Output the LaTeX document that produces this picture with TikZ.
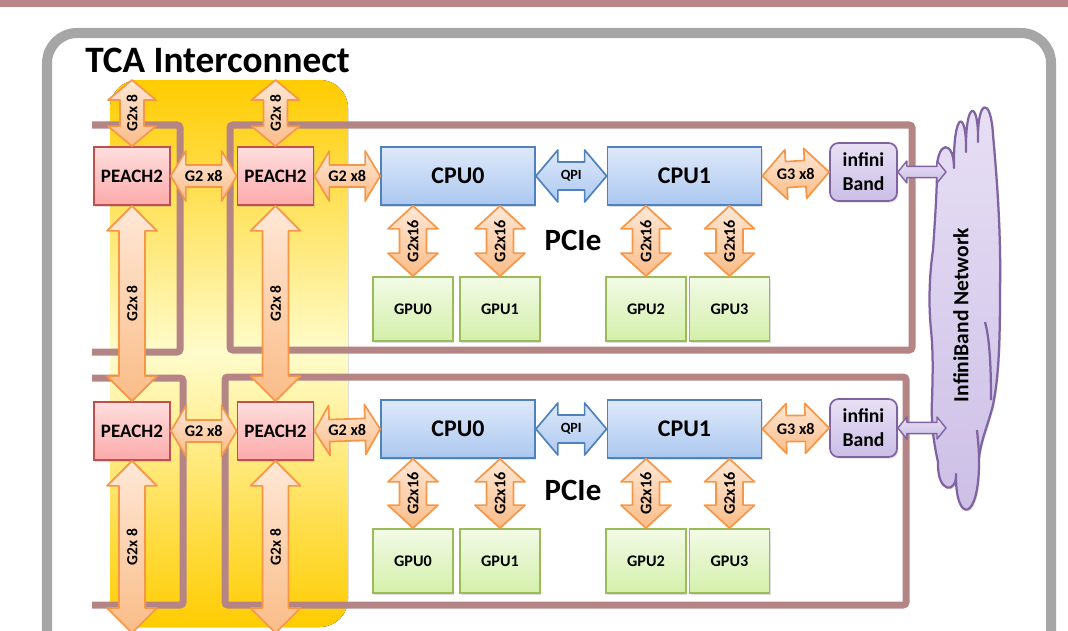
\documentclass[tikz,border=0pt]{standalone}
\usepackage{fontspec}
\setmainfont{Carlito}
\usetikzlibrary{calc,shadows}

\definecolor{bandred}{RGB}{184,134,134}
\definecolor{outergray}{RGB}{166,166,166}
\definecolor{framebrown}{RGB}{181,133,133}
\definecolor{bgyellow}{RGB}{255,204,0}
\definecolor{bglight}{RGB}{255,252,204}
\definecolor{peachline}{RGB}{192,80,77}
\definecolor{peachtop}{RGB}{255,222,222}
\definecolor{peachbot}{RGB}{252,170,170}
\definecolor{cpuline}{RGB}{79,129,189}
\definecolor{cputop}{RGB}{222,233,250}
\definecolor{cpubot}{RGB}{172,200,240}
\definecolor{gpuline}{RGB}{155,187,89}
\definecolor{gputop}{RGB}{242,250,230}
\definecolor{gpubot}{RGB}{212,240,170}
\definecolor{ibline}{RGB}{128,100,162}
\definecolor{ibtop}{RGB}{232,224,245}
\definecolor{ibbot}{RGB}{204,190,230}
\definecolor{arrline}{RGB}{247,150,70}
\definecolor{arrtop}{RGB}{255,232,215}
\definecolor{arrbot}{RGB}{250,188,135}

% fat double arrow from #2 to #3: head length #4, half head #5, half shaft #6
\newcommand{\fatarrow}[8][]{%
  \draw[#1] (#2) -- ($(#2)!#4!(#3)!#5!90:(#3)$) -- ($(#2)!#4!(#3)!#6!90:(#3)$)
    -- ($(#3)!#4!(#2)!#6!-90:(#2)$) -- ($(#3)!#4!(#2)!#5!-90:(#2)$) -- (#3)
    -- ($(#3)!#4!(#2)!#5!90:(#2)$) -- ($(#3)!#4!(#2)!#6!90:(#2)$)
    -- ($(#2)!#4!(#3)!#6!-90:(#3)$) -- ($(#2)!#4!(#3)!#5!-90:(#3)$) -- cycle;
  \path (#2) -- (#3) node[midway,#7] {#8};}

\begin{document}
\begin{tikzpicture}[x=0.025cm,y=-0.025cm]
  \tikzset{box/.style = {shape=rectangle,line width=1.2pt,inner sep=1pt,drop shadow={opacity=0.25,shadow xshift=1pt,shadow yshift=-1.2pt}}}
  \tikzset{peach/.style = {box,draw=peachline,top color=peachtop,bottom color=peachbot,minimum width=1.9cm,minimum height=1.45cm,font=\fontsize{13.5}{15}\selectfont\bfseries}}
  \tikzset{cpu/.style = {box,draw=cpuline,top color=cputop,bottom color=cpubot,minimum width=3.85cm,minimum height=1.45cm,font=\fontsize{17}{19}\selectfont\bfseries}}
  \tikzset{gpu/.style = {box,draw=gpuline,top color=gputop,bottom color=gpubot,minimum width=2cm,minimum height=1.6cm,font=\fontsize{11.5}{13}\selectfont\bfseries}}
  \tikzset{ib/.style = {box,draw=ibline,top color=ibtop,bottom color=ibbot,rounded corners=6pt,minimum width=1.675cm,minimum height=1.45cm,align=center,font=\fontsize{14}{17}\selectfont\bfseries}}
  \tikzset{netcloud/.style = {draw=ibline,line width=1.6pt,line join=round,top color=ibtop,bottom color=ibbot,drop shadow={opacity=0.2,shadow xshift=1pt,shadow yshift=-1.2pt}}}
  \tikzset{orangearrow/.style = {draw=arrline,line width=1.2pt,line join=round,top color=arrtop,bottom color=arrbot}}
  \tikzset{bluearrow/.style = {draw=cpuline,line width=1.2pt,line join=round,top color=cputop,bottom color=cpubot}}
  \tikzset{violetarrow/.style = {draw=ibline,line width=1pt,line join=round,top color=ibtop,bottom color=ibbot}}
  \tikzset{nodeframe/.style = {draw=framebrown,line width=0.175cm,rounded corners=2pt}}
  \tikzset{hlabel/.style = {font=\fontsize{11.5}{13}\selectfont\bfseries,inner sep=0pt}}
  \tikzset{vlabel/.style = {hlabel,rotate=90}}

  \useasboundingbox (0,0) rectangle (1068,631);
  \clip (0,0) rectangle (1068,631);

  % background
  \fill[bandred] (0,0) rectangle (1068,7);
  \draw[outergray,line width=0.25cm,rounded corners=0.75cm] (47,33) rectangle (1051,720);
  \fill[top color=bgyellow,bottom color=bgyellow,middle color=bglight,rounded corners=0.7cm] (110,80) rectangle (348,627);
  \node[anchor=base west,inner sep=0pt,font=\fontsize{26.5}{30}\selectfont\bfseries] (title) at (85,72) {TCA Interconnect};

  % node frames
  \draw[nodeframe] (92,125) -- (180,125) -- (180,352) -- (92,352);
  \draw[nodeframe] (230,125) rectangle (912,350);
  \draw[nodeframe] (92,378) -- (183,378) -- (183,605) -- (92,605);
  \draw[nodeframe] (225,377) rectangle (906,605);

  % InfiniBand cloud
  \draw[netcloud] (937,170) .. controls (937,140) and (954,140) .. (954,168)
    .. controls (953,109) and (967,109) .. (966,152)
    .. controls (965,99) and (979,99) .. (978,142)
    .. controls (977,98) and (991,96) .. (993,135)
    .. controls (998,190) and (1001,240) .. (1000,290)
    .. controls (1000,340) and (999,375) .. (993,405)
    .. controls (988,425) and (981,440) .. (979,458)
    .. controls (980,524) and (955,524) .. (956,474)
    .. controls (957,494) and (937,494) .. (938,462)
    .. controls (933,440) and (931,420) .. (932,400)
    .. controls (933,370) and (933,350) .. (931,330)
    .. controls (928,300) and (930,270) .. (933,250)
    .. controls (935,220) and (937,190) .. (937,170) -- cycle;
  \draw[ibline,line width=1.6pt] (985,322) .. controls (990,340) and (991,370) .. (991,400);
  \draw[ibline,line width=1.6pt] (977,430) .. controls (978,440) and (979,450) .. (979,458);
  \node[rotate=90,font=\fontsize{15.3}{17}\selectfont\bfseries] (netlabel) at (961,315) {InfiniBand Network};

  % upper node
  \node[peach] (Upeach1) at (132,176) {PEACH2};
  \node[peach] (Upeach2) at (275.5,176) {PEACH2};
  \node[cpu] (Ucpu0) at (458,176) {CPU0};
  \node[cpu] (Ucpu1) at (684.5,176) {CPU1};
  \node[gpu] (Ugpu0) at (413,309) {GPU0};
  \node[gpu] (Ugpu1) at (500,309) {GPU1};
  \node[gpu] (Ugpu2) at (646,309) {GPU2};
  \node[gpu] (Ugpu3) at (729.5,309) {GPU3};
  \node[ib] (Uib) at (863.5,172) {infini\\Band};
  \node[font=\fontsize{22}{26}\selectfont\bfseries] (Upcie) at (573,240) {PCIe};

  % lower node
  \node[peach] (Lpeach1) at (132,431) {PEACH2};
  \node[peach] (Lpeach2) at (275.5,431) {PEACH2};
  \node[cpu] (Lcpu0) at (458,429) {CPU0};
  \node[cpu] (Lcpu1) at (684.5,429) {CPU1};
  \node[gpu] (Lgpu0) at (413,561) {GPU0};
  \node[gpu] (Lgpu1) at (500,561) {GPU1};
  \node[gpu] (Lgpu2) at (646,561) {GPU2};
  \node[gpu] (Lgpu3) at (729.5,561) {GPU3};
  \node[ib] (Lib) at (863.5,428) {infini\\Band};
  \node[font=\fontsize{22}{26}\selectfont\bfseries] (Lpcie) at (573,490) {PCIe};

  \coordinate (Utop1) at (132,80);
  \coordinate (Utop2) at (275.5,80);
  \coordinate (Lbot1) at (132,633);
  \coordinate (Lbot2) at (275.5,633);
  \coordinate (Unet) at (946,172);
  \coordinate (Lnet) at (946,428);

  % links inside each node
  \foreach \h in {U,L} {
    \fatarrow[orangearrow]{\h peach1.east}{\h peach2.west}{0.375cm}{0.625cm}{0.275cm}{hlabel}{G2 x8}
    \fatarrow[orangearrow]{\h peach2.east}{\h cpu0.west}{0.375cm}{0.625cm}{0.275cm}{hlabel}{G2 x8}
    \fatarrow[bluearrow]{\h cpu0.east}{\h cpu1.west}{0.55cm}{0.65cm}{0.35cm}{hlabel,font=\fontsize{10}{12}\selectfont\bfseries}{QPI}
    \fatarrow[orangearrow]{\h cpu1.east}{\h ib.west}{0.6cm}{0.625cm}{0.325cm}{hlabel}{G3 x8}
    \fatarrow[violetarrow]{\h ib.east}{\h net}{0.225cm}{0.275cm}{0.14cm}{}{}
  }
  \foreach \h/\c/\g in {U/cpu0/gpu0, U/cpu0/gpu1, U/cpu1/gpu2, U/cpu1/gpu3, L/cpu0/gpu0, L/cpu0/gpu1, L/cpu1/gpu2, L/cpu1/gpu3} {
    \coordinate (\h\g top) at (\h\g.north |- \h\c.south);
    \fatarrow[orangearrow]{\h\g top}{\h\g.north}{0.575cm}{0.625cm}{0.3375cm}{vlabel,font=\fontsize{11.5}{13}\selectfont\bfseries}{G2x16}
  }

  % links between PEACH2 boards
  \foreach \from/\to in {Utop1/Upeach1.north, Utop2/Upeach2.north} {
    \fatarrow[orangearrow]{\from}{\to}{0.5cm}{0.6cm}{0.3cm}{vlabel,font=\fontsize{11}{12}\selectfont\bfseries}{G2x 8}
  }
  \foreach \from/\to in {Upeach1.south/Lpeach1.north, Upeach2.south/Lpeach2.north, Lpeach1.south/Lbot1, Lpeach2.south/Lbot2} {
    \fatarrow[orangearrow]{\from}{\to}{0.625cm}{0.625cm}{0.325cm}{vlabel,font=\fontsize{11}{12}\selectfont\bfseries}{G2x 8}
  }

\end{tikzpicture}
\end{document}
